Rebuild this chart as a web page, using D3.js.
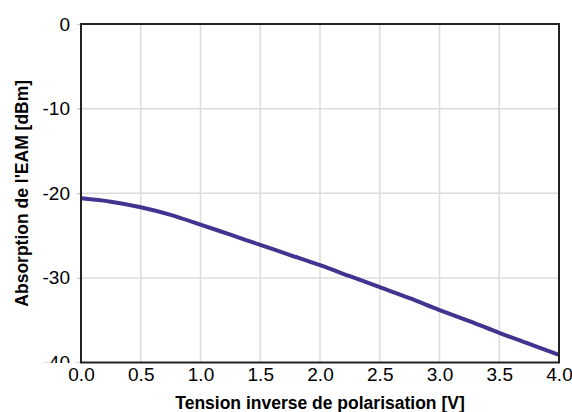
<!DOCTYPE html>
<html><head><meta charset="utf-8">
<script src="https://cdn.jsdelivr.net/npm/d3@7"></script>
<style>body{margin:0;background:#fff;} svg{display:block;font-family:"Liberation Sans",Arial,sans-serif;}</style>
</head><body>
<svg id="c" width="572" height="412"></svg>
<script>
const voltages = [0,0.25,0.5,0.75,1.0,1.25,1.5,1.75,2.0,2.25,2.5,2.75,3.0,3.25,3.5,3.75,4.0];
const absorption = [-20.6,-21.0,-21.65,-22.55,-23.7,-24.9,-26.1,-27.3,-28.5,-29.8,-31.1,-32.4,-33.8,-35.1,-36.5,-37.8,-39.1];
const xTicks = [0,0.5,1.0,1.5,2.0,2.5,3.0,3.5,4.0];
const yTicks = [0,-10,-20,-30,-40];
const xTitle = "Tension inverse de polarisation [V]";
const yTitle = "Absorption de l'EAM [dBm]";

const svg = d3.select("#c");
const L=81, R=559, T=24, B=362.5;
const x = d3.scaleLinear().domain([0,4]).range([L,R]);
const y = d3.scaleLinear().domain([-40,0]).range([B,T]);

// grid
svg.append("g").selectAll("line.v").data(xTicks.slice(1,-1)).join("line")
  .attr("x1",d=>x(d)).attr("x2",d=>x(d)).attr("y1",T).attr("y2",B)
  .attr("stroke","#dcdcdc").attr("stroke-width",1.5);
svg.append("g").selectAll("line.h").data(yTicks.slice(1,-1)).join("line")
  .attr("x1",L).attr("x2",R).attr("y1",d=>y(d)).attr("y2",d=>y(d))
  .attr("stroke","#dcdcdc").attr("stroke-width",1.5);

// clip for y labels (page coordinates, applied to outer group)
svg.append("clipPath").attr("id","yc").append("rect").attr("x",0).attr("y",0).attr("width",L).attr("height",B+0.5);

// y axis
const yOuter = svg.append("g").attr("clip-path","url(#yc)");
const yAxis = yOuter.append("g").attr("transform",`translate(${L},0)`)
  .call(d3.axisLeft(y).tickValues(yTicks).tickFormat(d3.format("d")).tickSize(4).tickPadding(7));
yAxis.select(".domain").remove();
yAxis.selectAll("line").attr("stroke","#cccccc").attr("stroke-width",1.5);
yAxis.selectAll("text").attr("font-size",19).attr("fill","#000").text(d=>d===0?"0":"-"+Math.abs(d));

// x axis
const xAxis = svg.append("g").attr("transform",`translate(0,${B})`)
  .call(d3.axisBottom(x).tickValues(xTicks).tickFormat(d3.format(".1f")).tickSize(0).tickPadding(5));
xAxis.select(".domain").remove();
xAxis.selectAll("text").attr("font-size",19).attr("fill","#000");

// line
svg.append("path").datum(voltages.map((v,i)=>[v,absorption[i]]))
  .attr("fill","none").attr("stroke","#3f3590").attr("stroke-width",4)
  .attr("stroke-linejoin","round").attr("stroke-linecap","butt")
  .attr("d",d3.line().x(d=>x(d[0])).y(d=>y(d[1])).curve(d3.curveMonotoneX));

// frame
svg.append("rect").attr("x",L).attr("y",T).attr("width",R-L).attr("height",B-T)
  .attr("fill","none").attr("stroke","#222").attr("stroke-width",2);

// titles
svg.append("text").attr("x",(L+R)/2).attr("y",409).attr("text-anchor","middle")
  .attr("font-size",17.5).attr("font-weight","bold").attr("fill","#000").text(xTitle);
svg.append("text").attr("transform",`translate(28,${(T+B)/2}) rotate(-90)`).attr("text-anchor","middle")
  .attr("font-size",17.5).attr("font-weight","bold").attr("fill","#000").text(yTitle);
</script>
</body></html>
